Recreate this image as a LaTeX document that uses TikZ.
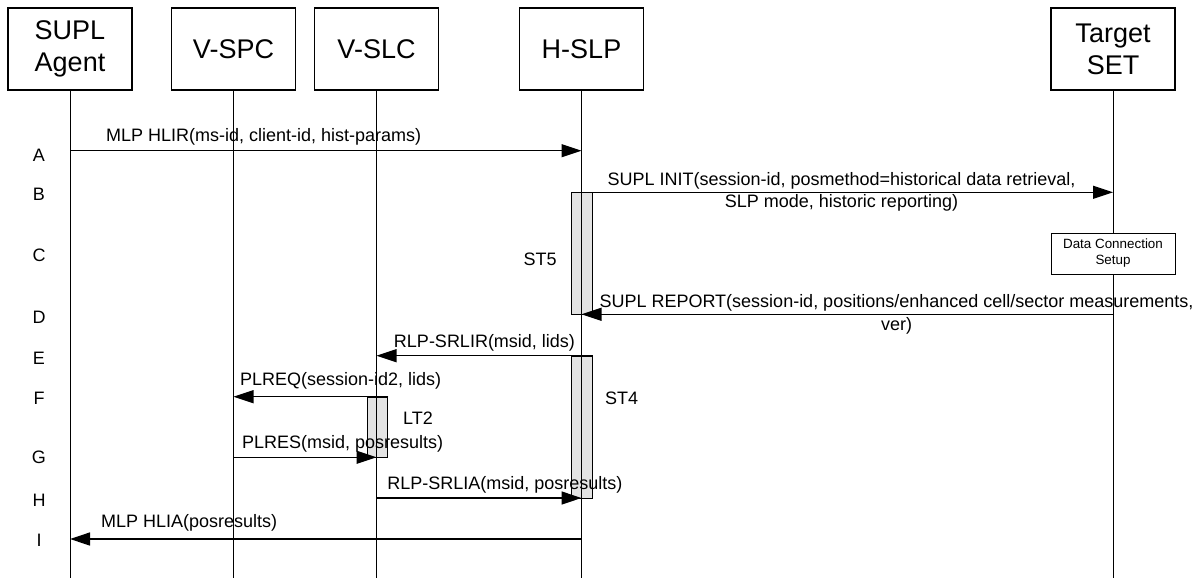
\documentclass[tikz,border=0pt]{standalone}
\usepackage{fontspec}
\setmainfont{Liberation Sans}
\usetikzlibrary{arrows.meta}
\begin{document}
\begin{tikzpicture}[x=1pt,y=-1pt,
  ent/.style={draw, line width=1.1pt, minimum width=124pt, minimum height=82pt, inner sep=0pt, align=center, font=\fontsize{27}{32}\selectfont},
  life/.style={line width=1pt},
  msg/.style={line width=1.3pt, -{Triangle[length=20pt,width=13pt]}},
  lbl/.style={inner sep=0pt, font=\fontsize{18}{22.6}\selectfont},
  act/.style={draw, line width=1pt, fill=gray!22, minimum width=20.7pt, inner sep=0pt, anchor=north west},
  small/.style={draw, line width=1pt, fill=white, minimum width=124pt, minimum height=41pt, inner sep=0pt, align=center, font=\fontsize{13.4}{16}\selectfont}
]
\useasboundingbox (0,0) rectangle (1199,578);
% activation boxes
\node[act, minimum height=122pt] (st5) at (571,192.3) {};
\node[act, minimum height=142.6pt] (st4) at (571,355.7) {};
\node[act, minimum height=60.6pt] (lt2) at (366.7,396.7) {};
% entities
\node[ent] (agent) at (70,49) {SUPL\\Agent};
\node[ent] (vspc) at (233.5,49) {V-SPC};
\node[ent] (vslc) at (376.5,49) {V-SLC};
\node[ent] (hslp) at (581.5,49) {H-SLP};
\node[ent] (tset) at (1113,49) {Target\\SET};
% lifeline ends
\coordinate (agE) at (70,578);
\coordinate (spcE) at (233.5,578);
\coordinate (slcE) at (376.5,578);
\coordinate (hE) at (581.5,578);
\coordinate (tE) at (1113,578);
\draw[life] (agent.south) -- (agE);
\draw[life] (vspc.south) -- (spcE);
\draw[life] (vslc.south) -- (slcE);
\draw[life] (hslp.south) -- (hE);
\draw[life] (tset.south) -- (tE);
% data connection setup
\node[small] (dcs) at (1113,253.5) {Data Connection\\Setup};
% message end points
\coordinate (agA) at (70,150.7);
\coordinate (hA) at (581.5,150.7);
\coordinate (tB) at (1113,192.3);
\coordinate (tD) at (1113,314.3);
\coordinate (hD) at (581.5,314.3);
\coordinate (slcE1) at (376.5,355.7);
\coordinate (spcF) at (233.5,396.7);
\coordinate (spcG) at (233.5,457.3);
\coordinate (slcG) at (376.5,457.3);
\coordinate (slcH) at (376.5,498);
\coordinate (hH) at (581.5,498);
\coordinate (hI) at (581.5,539);
\coordinate (agI) at (70,539);
% messages
\draw[msg] (agA) -- (hA);
\draw[msg] (st5.north east) -- (tB);
\draw[msg] (tD) -- (hD);
\draw[msg] (st4.north east) -- (slcE1);
\draw[msg] (lt2.north east) -- (spcF);
\draw[msg] (spcG) -- (slcG);
\draw[msg] (slcH) -- (hH);
\draw[msg] (hI) -- (agI);
% message labels
\node[lbl, anchor=west] (tA) at (106,137) {MLP HLIR(ms-id, client-id, hist-params)};
\node[lbl, align=center] (tBt) at (841.5,192) {SUPL INIT(session-id, posmethod=historical data retrieval,\\SLP mode, historic reporting)};
\node[lbl, align=center] (tDt) at (896.5,314.2) {SUPL REPORT(session-id, positions/enhanced cell/sector measurements,\\ver)};
\node[lbl] (tE) at (484.5,343) {RLP-SRLIR(msid, lids)};
\node[lbl, anchor=west] (tF) at (240,381) {PLREQ(session-id2, lids)};
\node[lbl, anchor=west] (tG) at (242,444) {PLRES(msid, posresults)};
\node[lbl, anchor=east] (tH) at (622.7,485) {RLP-SRLIA(msid, posresults)};
\node[lbl, anchor=west] (tI) at (101,523) {MLP HLIA(posresults)};
% timer labels
\node[lbl] (lST5) at (540,259) {ST5};
\node[lbl] (lST4) at (621.7,398) {ST4};
\node[lbl] (lLT2) at (418,418) {LT2};
% row labels
\node[lbl] (rA) at (39,155) {A};
\node[lbl] (rB) at (39,194) {B};
\node[lbl] (rC) at (39,255) {C};
\node[lbl] (rD) at (39,317) {D};
\node[lbl] (rE) at (39,358) {E};
\node[lbl] (rF) at (39,398) {F};
\node[lbl] (rG) at (39,457) {G};
\node[lbl] (rH) at (39,500) {H};
\node[lbl] (rI) at (39,540) {I};
\end{tikzpicture}
\end{document}
